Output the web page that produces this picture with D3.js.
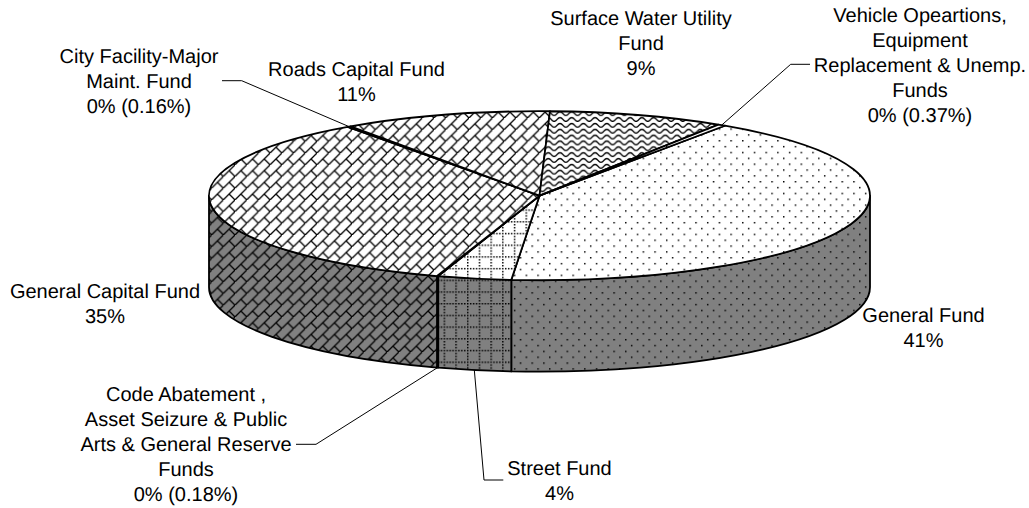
<!DOCTYPE html>
<html>
<head>
<meta charset="utf-8">
<script src="https://d3js.org/d3.v7.min.js"></script>
<style>
  html, body { margin: 0; padding: 0; background: #fff; }
  text { font-family: "Liberation Sans", Arial, sans-serif; font-size: 20px; fill: #000; text-rendering: geometricPrecision; }
</style>
</head>
<body>
<svg id="canvas"></svg>
<script>
// share of each slice (clockwise from General Fund)
var categories = ['General Fund', 'Street Fund', 'Code Abatement', 'General Capital Fund', 'City Facility', 'Roads Capital Fund', 'Surface Water Utility', 'Vehicle Operations'];
var values = [41.9, 3.6, 0.06, 35.14, 0.16, 10.2, 8.6, 0.37];
var hatches = ['dots', 'grid', 'dots', 'brick', 'brick', 'brick', 'wave', 'dots'];

var labelLines = [
  ['General Fund', '41%'],
  ['Street Fund', '4%'],
  ['Code Abatement ,', 'Asset Seizure & Public', 'Arts & General Reserve', 'Funds', '0% (0.18%)'],
  ['General Capital Fund', '35%'],
  ['City Facility-Major', 'Maint. Fund', '0% (0.16%)'],
  ['Roads Capital Fund', '11%'],
  ['Surface Water Utility', 'Fund', '9%'],
  ['Vehicle Opeartions,', 'Equipment', 'Replacement & Unemp.', 'Funds', '0% (0.37%)']
];
// centre x and first baseline of each label
var labelX = [923.5, 559.5, 186, 105, 139, 356.5, 641, 920];
var labelY = [322, 475, 401, 298, 63, 76, 25, 21.5];
var labelStep = 25;

var width = 1029, height = 508;
var cx = 539.5, cy = 195.7, rx = 330.5, ry = 84.5, depth = 91.5;
var startDeg = 34.1;
var TILE = 11.7;

var canvas = d3.select('#canvas').attr('width', width).attr('height', height).style('display', 'block');
var defs = canvas.append('defs');

var xs = d3.scaleLinear().domain([-1, 1]).range([cx - rx, cx + rx]);
var ys = d3.scaleLinear().domain([-1, 1]).range([cy - ry, cy + ry]);

function rimX(a) { return xs(Math.sin(a)); }
function rimY(a) { return ys(-Math.cos(a)); }

function makePattern(name, bg) {
  var id = name + (bg == '#fff' ? '-top' : '-side');
  var p = defs.append('pattern').attr('id', id)
    .attr('patternUnits', 'userSpaceOnUse')
    .attr('width', TILE).attr('height', TILE);
  p.append('rect').attr('width', TILE).attr('height', TILE).attr('fill', bg);
  var u = TILE / 8;
  if (name == 'dots') {
    p.attr('x', 642.6).attr('y', 181);
    [[0, 0], [4, 4]].forEach(function (d) {
      p.append('rect').attr('x', d[0] * u).attr('y', d[1] * u).attr('width', u).attr('height', u).attr('fill', '#000');
    });
  }
  else if (name == 'grid') {
    p.attr('x', 455.3).attr('y', 303);
    p.append('path').attr('d', 'M' + (u / 2) + ',0V' + TILE + 'M0,' + (u / 2) + 'H' + TILE)
      .attr('stroke', '#000').attr('stroke-width', u).attr('stroke-dasharray', u + ' ' + u).attr('fill', 'none');
  }
  else if (name == 'brick') {
    p.attr('x', 1).attr('y', 1);
    p.append('path')
      .attr('d', 'M-1,' + (TILE + 1) + 'L' + (TILE + 1) + ',-1' +
        'M' + (TILE / 2) + ',' + (TILE / 2) + 'L' + TILE + ',' + TILE)
      .attr('stroke', '#000').attr('stroke-width', 1.3).attr('fill', 'none');
  }
  else if (name == 'wave') {
    p.attr('x', 560).attr('y', 122);
    var w = function (y) {
      return 'M0,' + y + 'C' + (2 * u) + ',' + y + ' ' + (2 * u) + ',' + (y + 2.6 * u) + ' ' + (4 * u) + ',' + (y + 2.6 * u) +
        'S' + (6 * u) + ',' + y + ' ' + (8 * u) + ',' + y;
    };
    p.append('path').attr('d', w(u) + w(5 * u))
      .attr('stroke', '#000').attr('stroke-width', u * 0.9).attr('fill', 'none');
  }
  return id;
}

['dots', 'grid', 'brick', 'wave'].forEach(function (n) {
  makePattern(n, '#fff');
  makePattern(n, '#808080');
});

var pie = d3.pie().sort(null)
  .startAngle(startDeg * Math.PI / 180)
  .endAngle(startDeg * Math.PI / 180 + 2 * Math.PI);
var slices = pie(values);

function topPath(d) {
  var large = d.endAngle - d.startAngle > Math.PI ? 1 : 0;
  return 'M' + cx + ',' + cy + 'L' + rimX(d.startAngle) + ',' + rimY(d.startAngle) +
    'A' + rx + ',' + ry + ' 0 ' + large + ' 1 ' + rimX(d.endAngle) + ',' + rimY(d.endAngle) + 'Z';
}

function sidePath(d) {
  // only the front half of the rim has a visible wall
  var a0 = Math.max(d.startAngle, Math.PI / 2);
  var a1 = Math.min(d.endAngle, 3 * Math.PI / 2);
  if (a1 <= a0) return null;
  return 'M' + rimX(a0) + ',' + rimY(a0) +
    'A' + rx + ',' + ry + ' 0 0 1 ' + rimX(a1) + ',' + rimY(a1) +
    'L' + rimX(a1) + ',' + (rimY(a1) + depth) +
    'A' + rx + ',' + ry + ' 0 0 0 ' + rimX(a0) + ',' + (rimY(a0) + depth) + 'Z';
}

canvas.append('g').selectAll('path')
  .data(slices.filter(function (d) { return sidePath(d); }))
  .enter().append('path')
  .attr('d', sidePath)
  .attr('fill', function (d) { return 'url(#' + hatches[d.index] + '-side)'; })
  .attr('stroke', '#000').attr('stroke-width', 1.8).attr('stroke-linejoin', 'round');

canvas.append('g').selectAll('path')
  .data(slices)
  .enter().append('path')
  .attr('d', topPath)
  .attr('fill', function (d) { return 'url(#' + hatches[d.index] + '-top)'; })
  .attr('stroke', '#000').attr('stroke-width', 1.8).attr('stroke-linejoin', 'round');

// leader lines: elbow point and label end, the rim end comes from the slice
var leaders = [
  { slice: 7, wall: false, pts: [[790.7, 64.3], [810, 64.3]] },
  { slice: 4, wall: false, pts: [[241.7, 80.7], [222, 80.7]] },
  { slice: 2, wall: true, pts: [[316, 444.3], [296, 444.3]] },
  { slice: 1, wall: true, pts: [[484, 480], [503.3, 480]] }
];
var leaderLine = d3.line();
canvas.append('g').selectAll('path')
  .data(leaders)
  .enter().append('path')
  .attr('d', function (l) {
    var d = slices[l.slice];
    var mid = (d.startAngle + d.endAngle) / 2;
    return leaderLine([[rimX(mid), rimY(mid) + (l.wall ? depth : 0)]].concat(l.pts));
  })
  .attr('fill', 'none').attr('stroke', '#000').attr('stroke-width', 1);

var labels = canvas.append('g').selectAll('text')
  .data(labelLines)
  .enter().append('text')
  .attr('text-anchor', 'middle');
labels.each(function (lines, i) {
  d3.select(this).selectAll('tspan').data(lines).enter().append('tspan')
    .attr('x', labelX[i])
    .attr('y', function (t, j) { return labelY[i] + j * labelStep; })
    .text(function (t) { return t; });
});
</script>
</body>
</html>
